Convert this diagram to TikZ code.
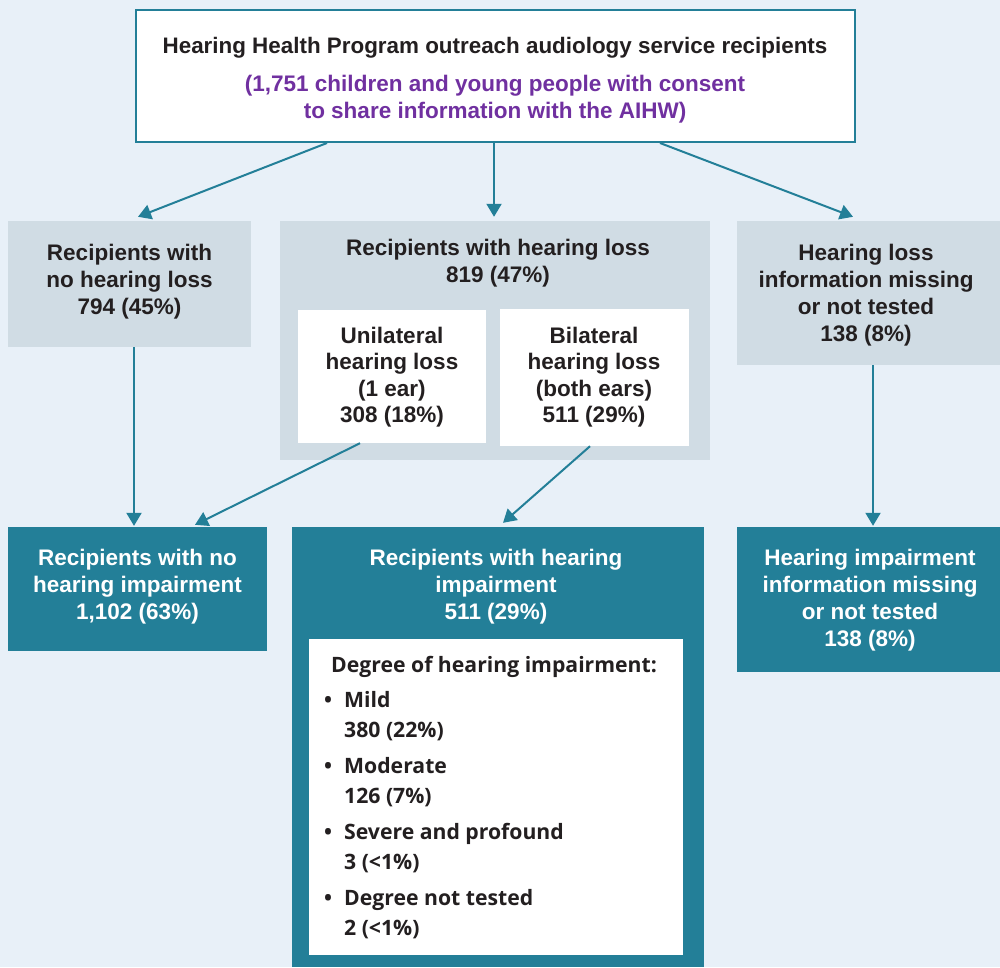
\documentclass[tikz,border=0pt]{standalone}
\usepackage{fontspec}
\setmainfont{Liberation Sans}
\newfontfamily\opensans{Open Sans}
\usetikzlibrary{calc,arrows.meta}
\definecolor{bgblue}{HTML}{E8F0F8}
\definecolor{greybox}{HTML}{D0DCE4}
\definecolor{tealc}{HTML}{237F98}
\definecolor{purplec}{HTML}{7030A0}
\definecolor{darktext}{HTML}{231F20}
\tikzset{
  greyrect/.style={rectangle, fill=greybox, draw=none, inner sep=0pt},
  whiterect/.style={rectangle, fill=white, draw=none, inner sep=0pt},
  tealrect/.style={rectangle, fill=tealc, draw=none, inner sep=0pt},
  toprect/.style={rectangle, fill=white, draw=tealc, line width=2pt, inner sep=0pt},
  darklabel/.style={text=darktext, font=\bfseries\fontsize{22.5}{27}\selectfont, align=center, inner sep=0pt},
  whitelabel/.style={text=white, font=\bfseries\fontsize{22.5}{27}\selectfont, align=center, inner sep=0pt},
  listlabel/.style={text=darktext, font=\opensans\bfseries\fontsize{21.2}{30}\selectfont, inner sep=0pt, anchor=base west},
  flow/.style={draw=tealc, line width=2pt, -{Triangle[width=15pt,length=13pt]}},
}
\begin{document}
\begin{tikzpicture}[x=1pt,y=-1pt]
\fill[bgblue] (0,0) rectangle (1000,967);
\useasboundingbox (0,0) rectangle (1000,967);

% boxes
\node[toprect, minimum width=719pt, minimum height=132pt] (top) at (495.5,76) {};
\node[greyrect, minimum width=243pt, minimum height=126pt] (left) at (129.5,284) {};
\node[greyrect, minimum width=430pt, minimum height=239pt] (mid) at (495,340.5) {};
\node[greyrect, minimum width=263pt, minimum height=144pt] (right) at (868.5,293) {};
\node[whiterect, minimum width=188pt, minimum height=133pt] (uni) at (392,376.5) {};
\node[whiterect, minimum width=189pt, minimum height=137pt] (bi) at (594.5,377.5) {};
\node[tealrect, minimum width=259pt, minimum height=124pt] (bl) at (137.5,589) {};
\node[tealrect, minimum width=412pt, minimum height=440pt] (bm) at (498,747) {};
\node[tealrect, minimum width=263pt, minimum height=145pt] (br) at (868.5,599.5) {};
\node[whiterect, minimum width=374pt, minimum height=316pt] (inner) at (496,797) {};

% texts
\node[text=darktext, font=\bfseries\fontsize{22.4}{27}\selectfont, inner sep=0pt] (toptitle) at (495,48) {Hearing Health Program outreach audiology service recipients};
\node[text=purplec, font=\bfseries\fontsize{22.5}{27}\selectfont, align=center, inner sep=0pt] (topsub) at (495,99) {(1,751 children and young people with consent\\to share information with the AIHW)};

\node[darklabel] (lefttxt) at (129.5,282) {Recipients with\\no hearing loss\\794 (45\%)};
\node[darklabel] (midtxt) at (498,263) {Recipients with hearing loss\\819 (47\%)};
\node[darklabel] (righttxt) at (866,295) {Hearing loss\\information missing\\or not tested\\138 (8\%)};
\node[darklabel, font=\bfseries\fontsize{22.5}{26.5}\selectfont] (unitxt) at (392,377) {Unilateral\\hearing loss\\(1 ear)\\308 (18\%)};
\node[darklabel, font=\bfseries\fontsize{22.5}{26.5}\selectfont] (bitxt) at (594,377) {Bilateral\\hearing loss\\(both ears)\\511 (29\%)};

\node[whitelabel] (bltxt) at (137.5,587) {Recipients with no\\hearing impairment\\1,102 (63\%)};
\node[whitelabel] (bmtxt) at (496,587) {Recipients with hearing\\impairment\\511 (29\%)};
\node[whitelabel] (brtxt) at (870,600) {Hearing impairment\\information missing\\or not tested\\138 (8\%)};

% inner list
\node[listlabel] (degtitle) at (331,672) {Degree of hearing impairment:};
\node[listlabel] (b1) at (324,707) {\textbullet};
\node[listlabel] (i1a) at (344,707) {Mild};
\node[listlabel] (i1b) at (344,737) {380 (22\%)};
\node[listlabel] (b2) at (324,773) {\textbullet};
\node[listlabel] (i2a) at (344,773) {Moderate};
\node[listlabel] (i2b) at (344,803) {126 (7\%)};
\node[listlabel] (b3) at (324,839) {\textbullet};
\node[listlabel] (i3a) at (344,839) {Severe and profound};
\node[listlabel] (i3b) at (344,869) {3 (<1\%)};
\node[listlabel] (b4) at (324,905) {\textbullet};
\node[listlabel] (i4a) at (344,905) {Degree not tested};
\node[listlabel] (i4b) at (344,935) {2 (<1\%)};

% arrows
\draw[flow] ($(top.south)+(-168.5,0)$) -- ($(left.north)+(8.5,-4)$);
\draw[flow] ($(top.south)+(-1.5,0)$) -- ($(mid.north)+(-1,-4)$);
\draw[flow] ($(top.south)+(164.5,0)$) -- ($(right.north)+(-15.5,-4)$);
\draw[flow] ($(left.south)+(4.5,0)$) -- ($(bl.north)+(-3.5,-1)$);
\draw[flow] ($(uni.south)+(-32,0)$) -- ($(bl.north)+(57.5,-2)$);
\draw[flow] ($(bi.south)+(-4.5,0)$) -- ($(bm.north)+(5,-4)$);
\draw[flow] ($(right.south)+(4.5,0)$) -- ($(br.north)+(4.5,-1)$);
\end{tikzpicture}
\end{document}
